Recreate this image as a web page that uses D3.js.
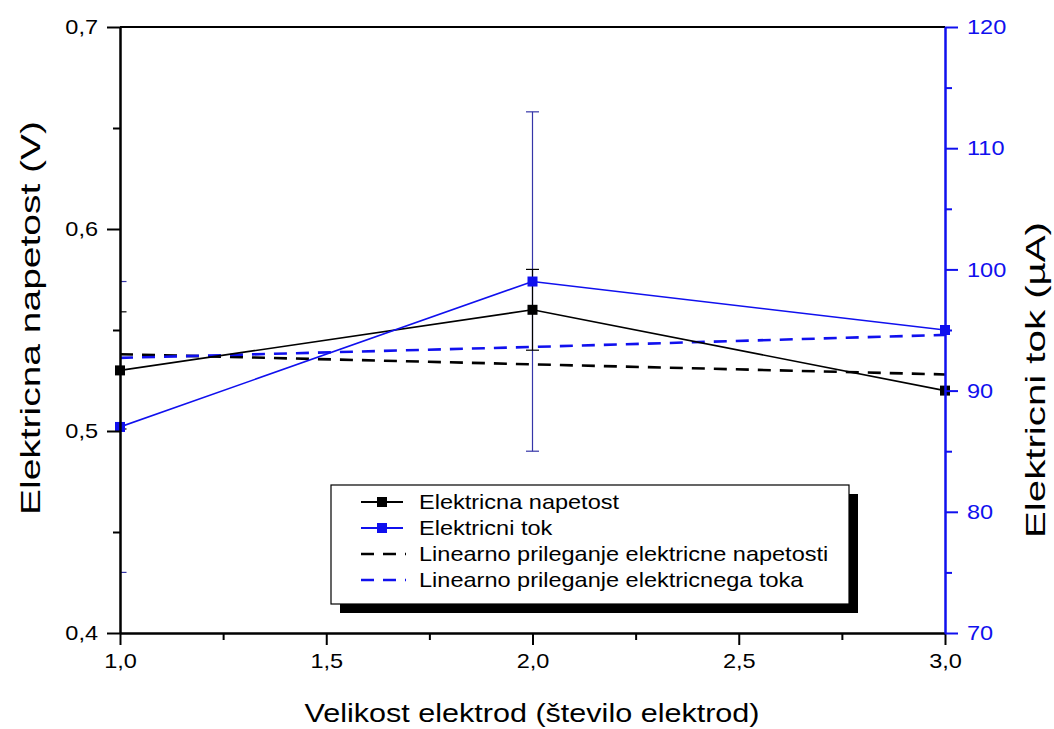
<!DOCTYPE html>
<html>
<head>
<meta charset="utf-8">
<script src="https://cdn.jsdelivr.net/npm/d3@7"></script>
<style>
  html, body { margin: 0; padding: 0; background: #fff; }
  svg { display: block; font-family: "Liberation Sans", Arial, sans-serif; }
</style>
</head>
<body>
<svg id="chart" width="1054" height="729"></svg>
<script>
// Electrode count (x) with measured voltage and current
const electrodes = [1, 2, 3];
const voltage = [0.53, 0.56, 0.52];
const voltageErr = [0.029, 0.02, 0];
const current = [87, 99, 95];
const currentErr = [12, 14, 0];
// Linear fit values evaluated at each electrode count
const voltageFit = [0.538, 0.533, 0.528];
const currentFit = [92.7, 93.6, 94.6];

const xTicks = [1, 1.5, 2, 2.5, 3];
const xMinor = [1.25, 1.75, 2.25, 2.75];
const leftTicks = [0.4, 0.5, 0.6, 0.7];
const leftMinor = [0.45, 0.55, 0.65];
const rightTicks = [70, 80, 90, 100, 110, 120];
const rightMinor = [75, 85, 95, 105, 115];

const legendLabels = [
  "Elektricna napetost",
  "Elektricni tok",
  "Linearno prileganje elektricne napetosti",
  "Linearno prileganje elektricnega toka"
];

const BLUE = "#1010ee";
const ERR_BLUE = "#3535a8";
const WIDEN = 1.12; // horizontal widening of text glyphs

const svg = d3.select("#chart");
const x = d3.scaleLinear().domain([1, 3]).range([120, 945]);
const yL = d3.scaleLinear().domain([0.4, 0.7]).range([633, 27]);
const yR = d3.scaleLinear().domain([70, 120]).range([633, 27]);
const fmt = d => d3.format(".1f")(d).replace(".", ",");

function widen(sel, factor) {
  sel.each(function () {
    const len = this.getComputedTextLength();
    d3.select(this).attr("textLength", len * factor).attr("lengthAdjust", "spacingAndGlyphs");
  });
}

// clip region for the data marks
svg.append("defs").append("clipPath").attr("id", "plotClip")
  .append("rect").attr("x", x(1)).attr("y", yL(0.7)).attr("width", x(3) - x(1)).attr("height", yL(0.4) - yL(0.7));

const plot = svg.append("g").attr("clip-path", "url(#plotClip)");
const capW = 6.5;

function errorBars(vals, errs, scale, color) {
  const d = electrodes.map((e, i) => ({ e, v: vals[i], s: errs[i] })).filter(d => d.s > 0);
  const g = plot.append("g").attr("stroke", color).attr("stroke-width", 1.2);
  g.selectAll("line.v").data(d).join("line")
    .attr("x1", d => x(d.e)).attr("x2", d => x(d.e))
    .attr("y1", d => scale(d.v + d.s)).attr("y2", d => scale(d.v - d.s));
  [1, -1].forEach(sign => {
    g.selectAll(null).data(d).join("line")
      .attr("x1", d => x(d.e) - capW).attr("x2", d => x(d.e) + capW)
      .attr("y1", d => scale(d.v + sign * d.s)).attr("y2", d => scale(d.v + sign * d.s));
  });
}
errorBars(current, currentErr, yR, ERR_BLUE);
errorBars(voltage, voltageErr, yL, "#000");

// linear fits
const pathOf = (scale) => d3.line().x((d, i) => x(electrodes[i])).y(d => scale(d));
plot.append("path").datum(voltageFit).attr("d", pathOf(yL)).attr("fill", "none")
  .attr("stroke", "#000").attr("stroke-width", 2.6).attr("stroke-dasharray", "13,9");
plot.append("path").datum(currentFit).attr("d", pathOf(yR)).attr("fill", "none")
  .attr("stroke", BLUE).attr("stroke-width", 2.6).attr("stroke-dasharray", "13,9");

// measured series
const markers = svg.append("g");
function series(vals, scale, color) {
  plot.append("path").datum(vals).attr("d", pathOf(scale)).attr("fill", "none")
    .attr("stroke", color).attr("stroke-width", 1.6);
  markers.append("g").selectAll("rect").data(vals).join("rect")
    .attr("x", (d, i) => x(electrodes[i]) - 5).attr("y", d => scale(d) - 5)
    .attr("width", 10).attr("height", 10).attr("fill", color);
}

// frame: top border
svg.append("line").attr("x1", x(1)).attr("x2", x(3)).attr("y1", yL(0.7)).attr("y2", yL(0.7))
  .attr("stroke", "#000").attr("stroke-width", 2);

function styleAxis(g, color, fontSize) {
  g.select(".domain").attr("stroke", color).attr("stroke-width", 2);
  g.selectAll(".tick line").attr("stroke", color).attr("stroke-width", 2);
  g.selectAll(".tick text").attr("fill", color).attr("font-size", fontSize)
    .attr("font-family", "Liberation Sans, Arial, sans-serif");
  widen(g.selectAll(".tick text"), WIDEN);
}

// bottom axis
const gx = svg.append("g").attr("transform", `translate(0,${yL(0.4)})`)
  .call(d3.axisBottom(x).tickValues(xTicks).tickFormat(fmt).tickSize(12).tickPadding(8).tickSizeOuter(0));
styleAxis(gx, "#000", 21);
const gxm = svg.append("g").attr("transform", `translate(0,${yL(0.4)})`)
  .call(d3.axisBottom(x).tickValues(xMinor).tickFormat("").tickSize(7).tickSizeOuter(0));
styleAxis(gxm, "#000", 21);

// left axis
const gl = svg.append("g").attr("transform", `translate(${x(1)},0)`)
  .call(d3.axisLeft(yL).tickValues(leftTicks).tickFormat(fmt).tickSize(13).tickPadding(9).tickSizeOuter(0));
styleAxis(gl, "#000", 21);
const glm = svg.append("g").attr("transform", `translate(${x(1)},0)`)
  .call(d3.axisLeft(yL).tickValues(leftMinor).tickFormat("").tickSize(7).tickSizeOuter(0));
styleAxis(glm, "#000", 21);

// right axis (current)
const gr = svg.append("g").attr("transform", `translate(${x(3)},0)`)
  .call(d3.axisRight(yR).tickValues(rightTicks).tickFormat(d3.format("d")).tickSize(13).tickPadding(9).tickSizeOuter(0));
styleAxis(gr, BLUE, 21);
const grm = svg.append("g").attr("transform", `translate(${x(3)},0)`)
  .call(d3.axisRight(yR).tickValues(rightMinor).tickFormat("").tickSize(7).tickSizeOuter(0));
styleAxis(grm, BLUE, 21);

series(voltage, yL, "#000");
series(current, yR, BLUE);

// axis titles
svg.append("text").attr("x", 532).attr("y", 722).attr("text-anchor", "middle")
  .attr("font-size", 26).attr("textLength", 455).attr("lengthAdjust", "spacingAndGlyphs")
  .text("Velikost elektrod (število elektrod)");
svg.append("text").attr("transform", "translate(40,318) rotate(-90)").attr("text-anchor", "middle")
  .attr("font-size", 28).attr("textLength", 394).attr("lengthAdjust", "spacingAndGlyphs")
  .text("Elektricna napetost (V)");
svg.append("text").attr("transform", "translate(1045,380) rotate(-90)").attr("text-anchor", "middle")
  .attr("font-size", 28).attr("textLength", 316).attr("lengthAdjust", "spacingAndGlyphs")
  .text("Elektricni tok (µA)");

// legend
const lg = svg.append("g");
const box = { x: 331, y: 485, w: 518, h: 119 };
lg.append("rect").attr("x", box.x + 9).attr("y", box.y + 9).attr("width", box.w).attr("height", box.h).attr("fill", "#000");
lg.append("rect").attr("x", box.x).attr("y", box.y).attr("width", box.w).attr("height", box.h)
  .attr("fill", "#fff").attr("stroke", "#000").attr("stroke-width", 1.2);
const legendItems = [
  { label: legendLabels[0], color: "#000", dash: null, marker: true },
  { label: legendLabels[1], color: BLUE, dash: null, marker: true },
  { label: legendLabels[2], color: "#000", dash: "13,9", marker: false },
  { label: legendLabels[3], color: BLUE, dash: "13,9", marker: false }
];
legendItems.forEach((it, i) => {
  const cy = 502 + i * 26;
  if (it.marker) {
    lg.append("line").attr("x1", 361).attr("x2", 403).attr("y1", cy).attr("y2", cy)
      .attr("stroke", it.color).attr("stroke-width", 1.8);
    lg.append("rect").attr("x", 377).attr("y", cy - 5).attr("width", 10).attr("height", 10).attr("fill", it.color);
  } else {
    lg.append("line").attr("x1", 361).attr("x2", 406).attr("y1", cy).attr("y2", cy)
      .attr("stroke", it.color).attr("stroke-width", 2.6).attr("stroke-dasharray", it.dash);
  }
  const t = lg.append("text").attr("x", 419).attr("y", cy + 7).attr("font-size", 21).attr("fill", "#000").text(it.label);
  widen(t, WIDEN);
});
</script>
</body>
</html>
